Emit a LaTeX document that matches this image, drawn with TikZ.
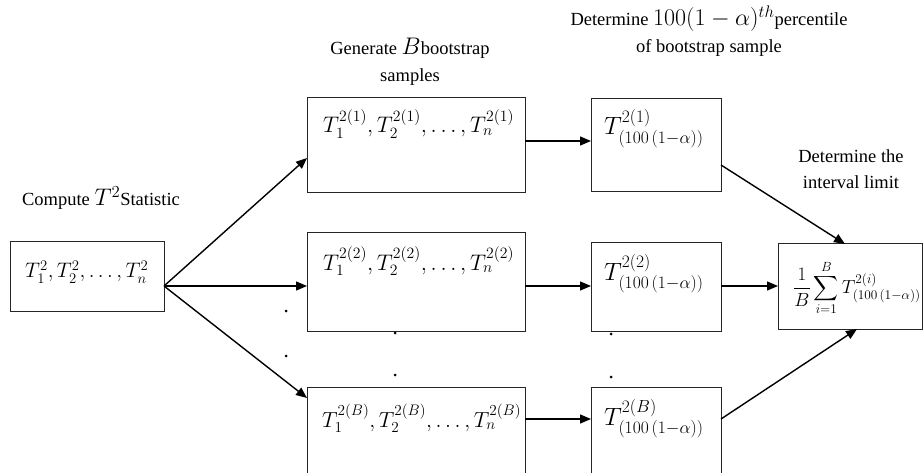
\RequirePackage{fix-cm}
\documentclass[tikz,border=0pt]{standalone}
\usepackage{fontspec}
\setmainfont{Liberation Serif}
\usepackage{amsmath}
\usetikzlibrary{arrows.meta}
\begin{document}
\begin{tikzpicture}[x=1pt,y=-1pt,
  box/.style={draw=black!85, line width=1pt, inner sep=0pt, outer sep=0pt, anchor=north west},
  mtext/.style={anchor=base west, inner sep=0pt, font=\fontsize{22.5}{28}\selectfont},
  lbl/.style={align=center, inner sep=0pt, font=\fontsize{18.5}{27}\selectfont},
  arr/.style={-{Triangle[length=11pt,width=9pt]}, line width=1.4pt},
  dotn/.style={circle, fill=black, inner sep=0pt, minimum size=3pt}]
\clip (0,0) rectangle (924,473);
\useasboundingbox (0,0) rectangle (924,473);

% boxes
\node[box, minimum width=154pt, minimum height=69pt] (A) at (10,242) {};
\node[box, minimum width=218pt, minimum height=95pt] (b1) at (307,98) {};
\node[box, minimum width=218pt, minimum height=98pt] (b2) at (307,233) {};
\node[box, minimum width=218pt, minimum height=100pt] (bB) at (307,387) {};
\node[box, minimum width=130pt, minimum height=93pt] (p1) at (591,99) {};
\node[box, minimum width=130pt, minimum height=88pt] (p2) at (591,243) {};
\node[box, minimum width=130pt, minimum height=100pt] (pB) at (591,387) {};
\node[box, minimum width=144pt, minimum height=85pt] (F) at (778,244) {};

% box texts
\node[mtext, font=\fontsize{21}{26}\selectfont] (tA) at (25,278) {$T_1^2,T_2^2,\ldots,T_n^2$};
\node[mtext] (t1) at (323,133) {$T_1^{2(1)},T_2^{2(1)},\ldots,T_n^{2(1)}$};
\node[mtext] (t2) at (323,270) {$T_1^{2(2)},T_2^{2(2)},\ldots,T_n^{2(2)}$};
\node[mtext, font=\fontsize{21.8}{28}\selectfont] (tB) at (322,427) {$T_1^{2(B)},T_2^{2(B)},\ldots,T_n^{2(B)}$};
\node[mtext, font=\fontsize{25}{30}\selectfont] (q1) at (604,135) {$T^{2(1)}_{(100\,(1-\alpha))}$};
\node[mtext, font=\fontsize{25}{30}\selectfont] (q2) at (604,280) {$T^{2(2)}_{(100\,(1-\alpha))}$};
\node[mtext, font=\fontsize{25}{30}\selectfont] (qB) at (604,425) {$T^{2(B)}_{(100\,(1-\alpha))}$};
\node[anchor=west, inner sep=0pt, font=\fontsize{19}{24}\selectfont] (qF) at (793,288)
  {$\dfrac{1}{B}\displaystyle\sum_{i=1}^{B}T^{2(i)}_{(100\,(1-\alpha))}$};

% labels (base = baseline of last line)
\node[lbl, anchor=base] (lA) at (101,206) {Compute {\fontsize{24}{26}\selectfont$T^2$}Statistic};
\node[lbl, anchor=base] (lB) at (410,82) {Generate {\fontsize{24}{26}\selectfont$B$}bootstrap\\samples};
\node[lbl, anchor=base] (lP) at (709,53) {Determine {\fontsize{24}{26}\selectfont$100(1-\alpha)^{th}$}percentile\\of bootstrap sample};
\node[lbl, anchor=base, font=\fontsize{18.5}{26}\selectfont] (lF) at (851,189) {Determine the\\interval limit};

% dots
\node[dotn] (d1) at (286,311) {};
\node[dotn] (d2) at (286,356) {};
\node[dotn] (d3) at (395,333) {};
\node[dotn] (d4) at (395,375) {};
\node[dotn] (d5) at (611,334) {};
\node[dotn] (d6) at (611,377) {};

% connectors
\coordinate (aout) at ([yshift=-9.5pt]A.east);
\draw[arr] (aout) -- ([yshift=-12.5pt]b1.west);
\draw[arr] (aout) -- (b2.west |- aout);
\draw[arr] (aout) -- ([yshift=-11pt]bB.north west);
\draw[arr] ([yshift=4.5pt]b1.east) -- ([yshift=4.5pt]b1.east -| p1.west);
\draw[arr] (b2.east |- aout) -- (p2.west |- aout);
\draw[arr] ([yshift=-32pt]bB.north east) -- ([yshift=-32pt]pB.north west);
\draw[arr] ([yshift=-66pt]p1.north east) -- ([xshift=67pt]F.north west);
\draw[arr] (p2.east |- aout) -- (F.west |- aout);
\draw[arr] ([yshift=-32pt]pB.north east) -- ([xshift=79pt]F.south west);
\end{tikzpicture}
\end{document}
